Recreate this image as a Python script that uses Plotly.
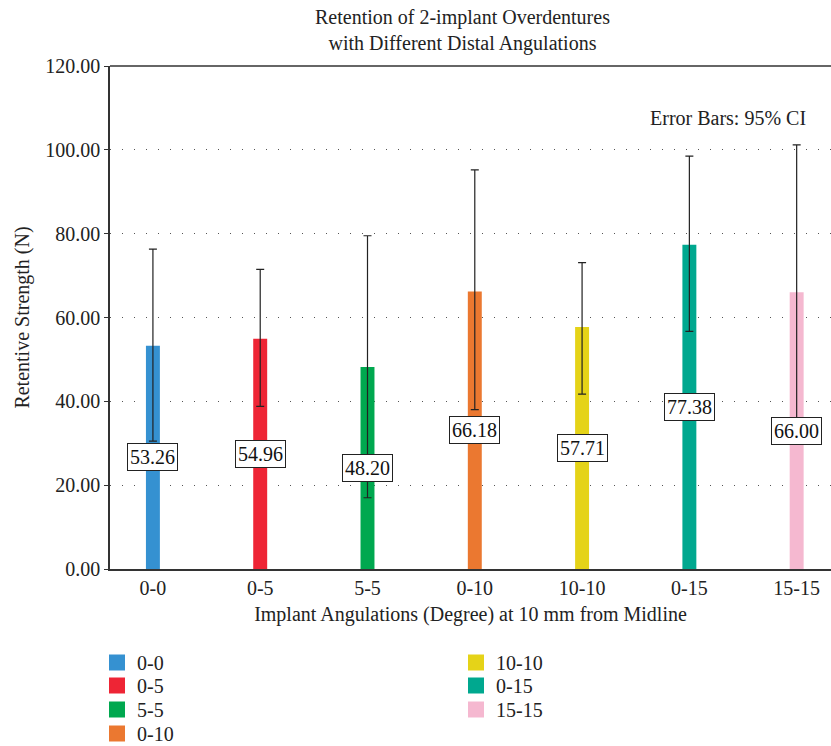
import plotly.graph_objects as go

categories = ["0-0", "0-5", "5-5", "0-10", "10-10", "0-15", "15-15"]
means = [53.26, 54.96, 48.20, 66.18, 57.71, 77.38, 66.00]
ci_upper = [76.3, 71.5, 79.5, 95.2, 73.1, 98.5, 101.2]
ci_lower = [30.5, 38.8, 17.0, 38.0, 41.7, 56.7, 31.5]
colors = ["#3591d1", "#ee2535", "#00a84f", "#eb7830", "#e5d318", "#00a88f", "#f5b8d0"]
label_texts = ["53.26", "54.96", "48.20", "66.18", "57.71", "77.38", "66.00"]
y_ticks = [0, 20, 40, 60, 80, 100, 120]

FONT = "Liberation Serif"
W, H = 831, 746
L, R, T, B = 110, 0, 66, 177
plot_h = H - T - B
plot_w = W - L - R

# legend layout: two columns (x of legend box left), row centres in pixels
legend_cols_px = [97, 456]
legend_rows_px = [660, 683, 707, 731]

fig = go.Figure()
for i, c in enumerate(categories):
    fig.add_trace(go.Bar(
        x=[c], y=[means[i]], width=0.13,
        marker=dict(color=colors[i], line=dict(width=0)),
        error_y=dict(type="data", symmetric=False,
                     array=[ci_upper[i] - means[i]],
                     arrayminus=[means[i] - ci_lower[i]],
                     color="#222222", thickness=1.2, width=4),
        showlegend=False, hoverinfo="skip",
    ))

legend_layouts = {}
for i, c in enumerate(categories):
    key = "legend" if i == 0 else f"legend{i + 1}"
    fig.add_trace(go.Scatter(
        x=[None], y=[None], mode="markers", name=c,
        marker=dict(symbol="square", size=16, color=colors[i]),
        legend=key,
    ))
    col, row = divmod(i, 4)
    legend_layouts[key] = dict(
        x=(legend_cols_px[col] - L) / plot_w, xanchor="left",
        y=(569 - (legend_rows_px[row] - 17)) / plot_h, yanchor="top",
        orientation="v", font=dict(family=FONT, size=20, color="#222222"),
        itemsizing="trace", bgcolor="rgba(0,0,0,0)",
    )

for i, c in enumerate(categories):
    fig.add_annotation(
        x=c, y=means[i] / 2, text=label_texts[i], showarrow=False,
        font=dict(family=FONT, size=20, color="#111111"),
        bgcolor="white", bordercolor="#222222", borderwidth=1, borderpad=2,
    )

fig.add_annotation(
    xref="paper", yref="paper", x=(808 - L) / plot_w, y=(569 - 105) / plot_h,
    text="Error Bars: 95% CI", showarrow=False, xanchor="right",
    font=dict(family=FONT, size=20, color="#222222"),
)

# title as annotation (two lines)
fig.add_annotation(
    xref="paper", yref="paper", x=(462 - L) / plot_w, y=(569 - 4) / plot_h,
    text="Retention of 2-implant Overdentures<br>with Different Distal Angulations",
    showarrow=False, xanchor="center", yanchor="top",
    font=dict(family=FONT, size=20, color="#222222"),
)

# top border line
fig.add_shape(type="line", xref="paper", yref="paper", x0=0, x1=1, y0=1, y1=1,
              line=dict(color="#333333", width=1.5))

fig.update_layout(
    width=W, height=H,
    margin=dict(l=L, r=R, t=T, b=B, autoexpand=False),
    paper_bgcolor="white", plot_bgcolor="white",
    barmode="overlay",
    font=dict(family=FONT, size=20, color="#222222"),
    xaxis=dict(type="category", range=[-0.4, 6.32], showline=True, linecolor="#333333",
               linewidth=1.5, ticks="", showgrid=False, automargin=False,
               tickfont=dict(family=FONT, size=20),
               title=dict(text="Implant Angulations (Degree) at 10 mm from Midline",
                          font=dict(family=FONT, size=20), standoff=9)),
    yaxis=dict(range=[0, 120], tickvals=y_ticks, tickformat=".2f", showline=True,
               linecolor="#333333", linewidth=1.5, ticks="outside", ticklen=4,
               tickcolor="#333333", showgrid=True, gridcolor="#555555", gridwidth=1,
               griddash="1px,11px", zeroline=False, automargin=False,
               tickfont=dict(family=FONT, size=20),
               title=dict(text="Retentive Strength (N)", font=dict(family=FONT, size=20),
                          standoff=10)),
    **legend_layouts,
)

fig.write_html("out.html", config={"displayModeBar": False},
               post_script="document.body.style.margin='0';")
